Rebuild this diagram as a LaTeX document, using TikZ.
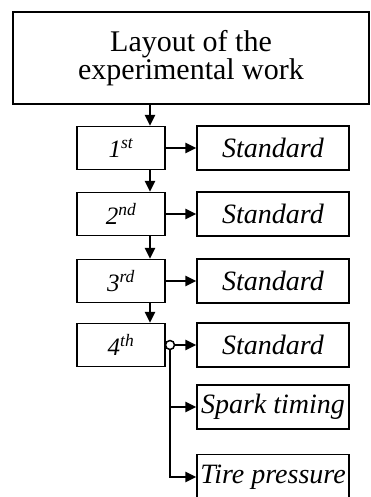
\documentclass[tikz,border=0pt]{standalone}
\usepackage{fontspec}
\setmainfont{Liberation Serif}
\usetikzlibrary{arrows.meta}
\begin{document}
\begin{tikzpicture}[x=1pt,y=-1pt,
    box/.style={draw,line width=1.2pt,inner sep=0pt,align=center},
    stage/.style={box,minimum width=88pt,minimum height=43pt,
      font=\fontsize{25}{28}\selectfont\itshape},
    trial/.style={box,minimum width=152pt,minimum height=44pt,
      font=\fontsize{28}{30}\selectfont\itshape},
    arr/.style={line width=2.2pt,-{Triangle[length=11pt,width=10pt]}}]
  \useasboundingbox (0,0) rectangle (370,497);
  \clip (0,0) rectangle (370,497);
  % main box
  \node[box,minimum width=356pt,minimum height=92pt,
    font=\fontsize{30}{28}\selectfont] (layout) at (191,58)
    {\raisebox{-4pt}{\parbox{300pt}{\centering Layout of the\\experimental work}}};
  % stages
  \node[stage] (s1) at (121,148) {1\textsuperscript{st}};
  \node[stage] (s2) at (121,214) {2\textsuperscript{nd}};
  \node[stage] (s3) at (121,281) {3\textsuperscript{rd}};
  \node[stage] (s4) at (121,345) {4\textsuperscript{th}};
  % trials
  \node[trial] (std1) at (273,148) {Standard};
  \node[trial] (std2) at (273,214) {Standard};
  \node[trial] (std3) at (273,281) {Standard};
  \node[trial] (std4) at (273,345) {Standard};
  \node[trial] (spark) at (273,407) {Spark timing};
  \node[trial,minimum height=45pt] (tire) at (273,477) {Tire pressure};
  \begin{scope}[arr]
    \draw ([xshift=29pt]s1.north |- layout.south) -- ([xshift=29pt]s1.north);
    \draw ([xshift=29pt]s1.south) -- ([xshift=29pt]s2.north);
    \draw ([xshift=29pt]s2.south) -- ([xshift=29pt]s3.north);
    \draw ([xshift=29pt]s3.south) -- ([xshift=29pt]s4.north);
    \draw (s1.east) -- (std1.west);
    \draw (s2.east) -- (std2.west);
    \draw (s3.east) -- (std3.west);
  \end{scope}
  % branching of the 4th stage
  \coordinate (fork) at (170,345);
  \begin{scope}[arr]
    \draw (s4.east) -- (std4.west);
    \draw (fork) |- (spark.west);
    \draw (fork) |- (tire.west);
  \end{scope}
  \node[draw,circle,line width=1.5pt,fill=white,inner sep=0pt,
    minimum size=9pt] (dot) at (fork) {};
\end{tikzpicture}
\end{document}
